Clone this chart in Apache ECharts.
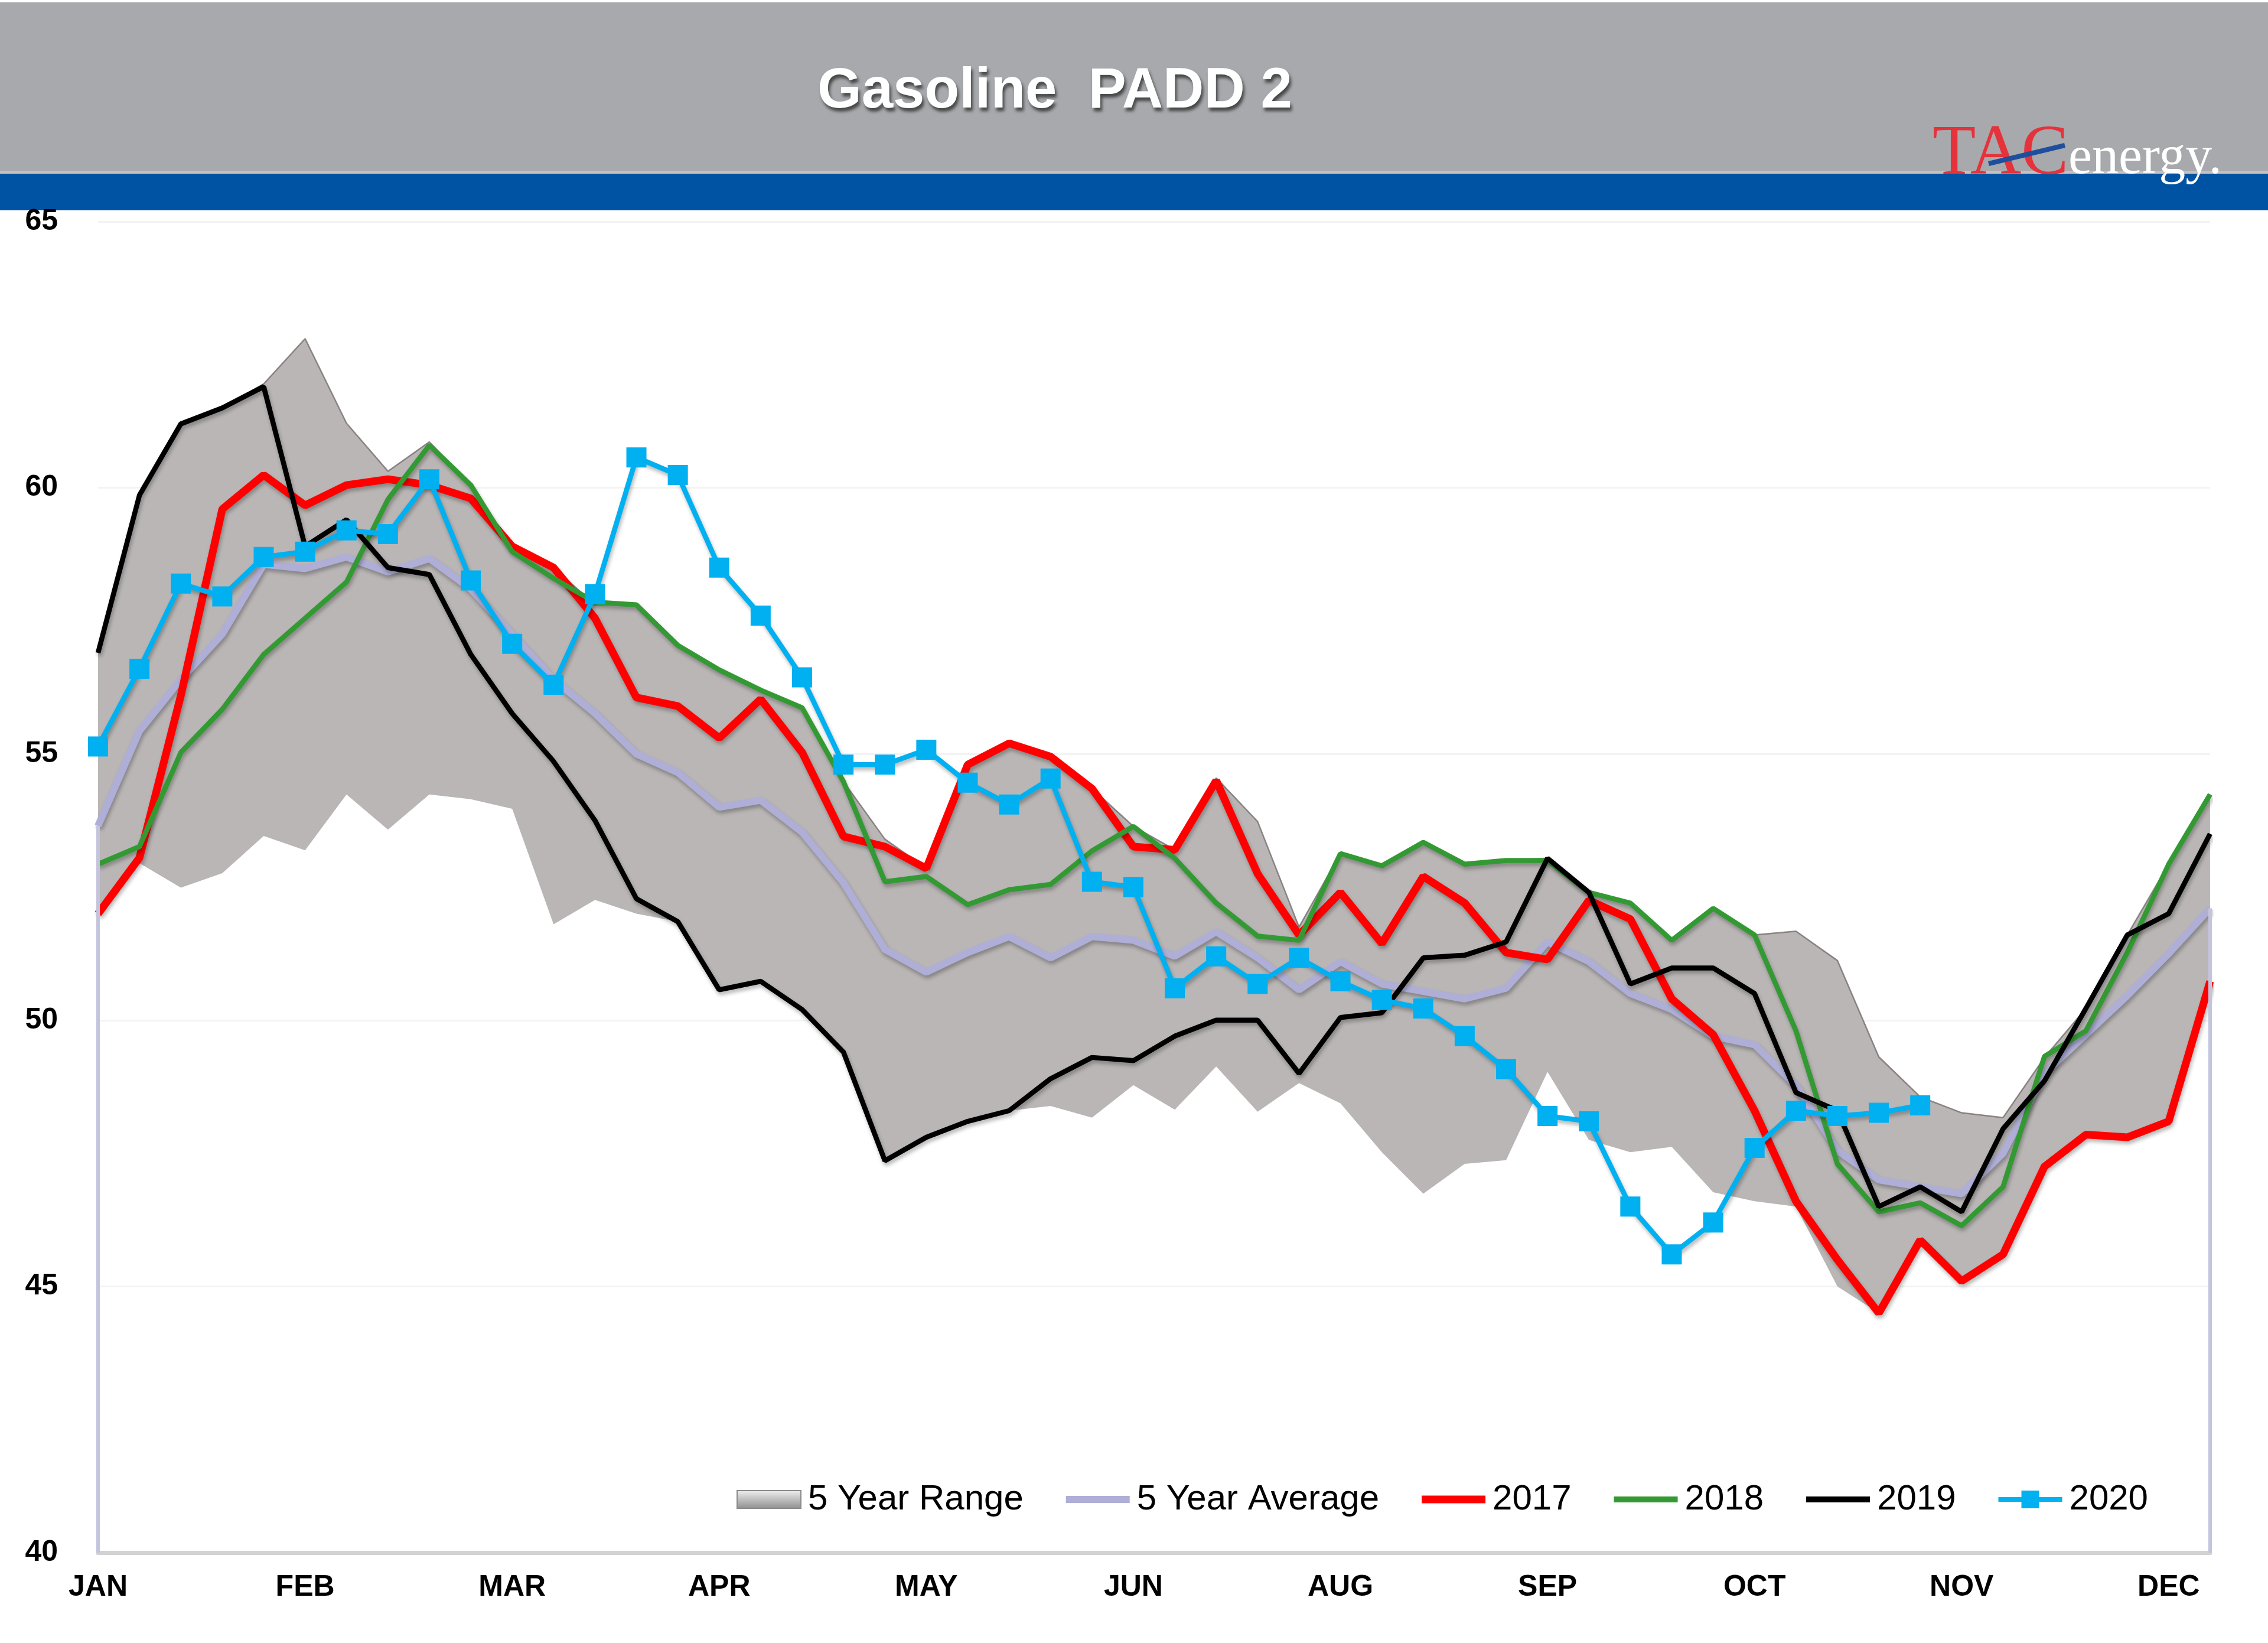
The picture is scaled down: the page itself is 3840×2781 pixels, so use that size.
<!DOCTYPE html>
<html><head><meta charset="utf-8">
<script src="https://cdn.jsdelivr.net/npm/echarts@6/dist/echarts.min.js"></script>
<style>html,body{margin:0;padding:0;background:#fff}#c{width:3840px;height:2781px}</style>
</head><body><div id="c"></div>
<script>
const weeks = [1,2,3,4,5,6,7,8,9,10,11,12,13,14,15,16,17,18,19,20,21,22,23,24,25,26,
  27,28,29,30,31,32,33,34,35,36,37,38,39,40,41,42,43,44,45,46,47,48,49,50,51,52];
const monthLabels = ['JAN','FEB','MAR','APR','MAY','JUN','AUG','SEP','OCT','NOV','DEC'];
const yTicks = [40,45,50,55,60,65];

const rangeUpper = [56.9,59.86,61.2,61.5,61.95,62.8,61.21,60.31,60.86,60.05,58.9,58.5,57.8,57.8,57.04,56.58,
  56.2,55.87,54.48,53.4,52.85,54.8,55.22,54.95,54.35,53.64,53.2,54.55,53.73,51.75,53.13,52.9,53.34,52.93,53.0,
  53.04,52.43,52.2,51.5,52.1,51.6,51.67,51.12,49.31,48.56,48.26,48.17,49.3,50.22,51.6,52.93,54.24];
const rangeLower = [52.0,52.95,52.49,52.76,53.46,53.19,54.24,53.58,54.24,54.15,53.97,51.8,52.26,52.0,51.85,50.57,
  50.73,50.2,49.4,47.36,47.8,48.1,48.3,48.39,48.17,48.78,48.32,49.13,48.28,48.82,48.44,47.52,46.74,47.3,47.37,
  49.03,47.75,47.52,47.62,46.77,46.6,46.5,45.0,44.5,45.87,45.1,45.6,47.25,47.85,47.8,48.1,50.73];
const avg5 = [53.65,55.43,56.4,57.25,58.56,58.48,58.7,58.42,58.67,58.1,57.25,56.4,55.76,55.0,54.65,54.0,54.13,
  53.53,52.58,51.33,50.9,51.27,51.57,51.17,51.57,51.5,51.2,51.66,51.17,50.57,51.1,50.68,50.54,50.4,50.6,51.47,
  51.1,50.5,50.2,49.7,49.54,48.77,47.55,47.0,46.87,46.74,47.5,49.0,49.73,50.46,51.25,52.1];
const y2017 = [52.0,53.05,56.1,59.6,60.24,59.67,60.05,60.16,60.05,59.8,58.9,58.5,57.55,56.06,55.9,55.3,56.03,
  55.03,53.45,53.26,52.85,54.8,55.2,54.95,54.35,53.26,53.2,54.5,52.75,51.6,52.4,51.44,52.7,52.2,51.27,51.14,
  52.25,51.9,50.4,49.73,48.3,46.6,45.5,44.5,45.87,45.1,45.6,47.25,47.85,47.8,48.1,50.73];
const y2018 = [52.93,53.26,55.03,55.84,56.87,57.55,58.23,59.78,60.8,60.05,58.8,58.3,57.85,57.8,57.04,56.58,
  56.2,55.87,54.48,52.6,52.7,52.17,52.45,52.55,53.18,53.64,53.04,52.2,51.58,51.5,53.13,52.9,53.34,52.93,53.0,
  53.0,52.4,52.2,51.5,52.1,51.6,49.8,47.3,46.4,46.57,46.14,46.87,49.32,49.8,51.27,52.93,54.24];
const y2019 = [56.9,59.86,61.2,61.5,61.9,58.9,59.4,58.5,58.37,56.87,55.76,54.86,53.75,52.28,51.85,50.57,
  50.73,50.2,49.4,47.36,47.8,48.1,48.3,48.9,49.3,49.24,49.7,50.0,50.0,49.0,50.05,50.14,51.17,51.22,51.47,
  53.04,52.4,50.68,50.98,50.98,50.5,48.64,48.3,46.5,46.87,46.4,47.96,48.86,50.22,51.6,52.0,53.5];
const y2020 = [55.14,56.6,58.2,57.96,58.7,58.8,59.2,59.13,60.16,58.26,57.07,56.3,58.0,60.57,60.24,58.5,57.6,
  56.44,54.8,54.8,55.08,54.46,54.05,54.54,52.6,52.5,50.6,51.2,50.68,51.17,50.73,50.38,50.22,49.7,49.08,48.2,
  48.1,46.5,45.6,46.2,47.6,48.3,48.2,48.26,48.4];

const rangeSpan = rangeUpper.map((u, i) => +(u - rangeLower[i]).toFixed(2));
const lastIdx = weeks.length - 1;
const shadow = {shadowColor:'rgba(0,0,0,0.28)', shadowBlur:6, shadowOffsetX:2, shadowOffsetY:5};
const C_AVG = '#aeaed6', C17 = '#ff0000', C18 = '#339a33', C19 = '#000000', C20 = '#00b0f0';

const chart = echarts.init(document.getElementById('c'), null, {renderer:'canvas'});
chart.setOption({
  animation:false,
  backgroundColor:'#ffffff',
  grid:{left:166, right:98, top:375, bottom:153, containLabel:false},
  graphic:[
    {type:'rect', shape:{x:0,y:4,width:3840,height:287}, style:{fill:'#a7a9ac'}, silent:true},
    {type:'rect', shape:{x:0,y:289,width:3840,height:5}, style:{fill:'#c9bfbf'}, silent:true},
    {type:'rect', shape:{x:0,y:294,width:3840,height:62}, style:{fill:'#0052a2'}, silent:true},
    {type:'text', left:1384, top:108, silent:true,
      style:{text:'Gasoline  PADD 2', fill:'#ffffff', font:'bold 96px "Liberation Sans", Arial, sans-serif',
        textShadowColor:'rgba(40,40,40,0.75)', textShadowBlur:5, textShadowOffsetX:3, textShadowOffsetY:6}},
    {type:'text', x:3272, y:322, silent:true,
      style:{text:'TAC', fill:'#e5323b', font:'120px "Liberation Serif", "Times New Roman", serif',
        textAlign:'left', textVerticalAlign:'bottom'}},
    {type:'text', x:3502, y:314, silent:true,
      style:{text:'energy.', fill:'#ffffff', font:'90px "Liberation Serif", "Times New Roman", serif',
        textAlign:'left', textVerticalAlign:'bottom'}},
    {type:'line', silent:true, shape:{x1:3367,y1:277,x2:3496,y2:246}, style:{stroke:'#1f4f9c', lineWidth:8}}
  ],
  legend:{
    left:1242, top:2503, itemGap:72, itemWidth:108, itemHeight:30,
    textStyle:{fontSize:60, color:'#000', fontFamily:'"Liberation Sans", Arial, sans-serif', padding:[0,0,0,7]},
    data:[
      {name:'5 Year Range', icon:'rect', itemStyle:{borderWidth:2, borderColor:'#8a8a8a',
        color:{type:'linear', x:0, y:0, x2:0, y2:1, colorStops:[
          {offset:0, color:'#f0f0f0'}, {offset:0.45, color:'#c4c4c4'}, {offset:1, color:'#8e8e8e'}]}}},
      {name:'5 Year Average', icon:'path://M0,0H108V12H0Z', itemStyle:{color:C_AVG, borderWidth:0}},
      {name:'2017', icon:'path://M0,0H108V13H0Z', itemStyle:{color:C17, borderWidth:0}},
      {name:'2018', icon:'path://M0,0H108V10H0Z', itemStyle:{color:C18, borderWidth:0}},
      {name:'2019', icon:'path://M0,0H108V10H0Z', itemStyle:{color:C19, borderWidth:0}},
      {name:'2020', icon:'path://M0,11H39V0H69V11H108V19H69V30H39V19H0Z', itemStyle:{color:C20, borderWidth:0}}
    ]
  },
  xAxis:{
    type:'category', data:weeks, boundaryGap:false,
    axisLine:{show:true, lineStyle:{color:'#d2d2d2', width:7}},
    axisTick:{show:false},
    axisLabel:{interval:4, margin:34, fontSize:50, fontWeight:'bold', color:'#000',
      fontFamily:'"Liberation Sans", Arial, sans-serif',
      formatter:(v, idx) => monthLabels[idx / 5] || ''},
    splitLine:{show:false}
  },
  yAxis:{
    type:'value', min:yTicks[0], max:yTicks[yTicks.length-1], interval:yTicks[1]-yTicks[0],
    axisLine:{show:false}, axisTick:{show:false},
    axisLabel:{margin:68, fontSize:50, fontWeight:'bold', color:'#000',
      fontFamily:'"Liberation Sans", Arial, sans-serif'},
    splitLine:{show:true, lineStyle:{color:'#f3f3f3', width:3}}
  },
  series:[
    {name:'rangeBase', type:'line', data:rangeLower, stack:'range', symbol:'none', silent:true,
      lineStyle:{width:0, opacity:0}, z:1},
    {name:'5 Year Range', type:'line', data:rangeSpan, stack:'range', symbol:'none', silent:true,
      lineStyle:{width:2.5, color:'#7c7373', opacity:0.85},
      areaStyle:{color:'#bab6b6', opacity:1}, itemStyle:{color:'#bab6b6'}, z:1},
    {name:'5 Year Average', type:'line', data:avg5, symbol:'none',
      lineStyle:Object.assign({width:12, color:C_AVG}, shadow), itemStyle:{color:C_AVG}, z:2,
      markLine:{silent:true, symbol:'none', label:{show:false},
        lineStyle:{color:'#c4c4dc', width:6, type:'solid'},
        data:[[{coord:[0, avg5[0]]},{coord:[0, yTicks[0]]}],
              [{coord:[lastIdx, avg5[lastIdx]]},{coord:[lastIdx, yTicks[0]]}]]}},
    {name:'2017', type:'line', data:y2017, symbol:'none',
      lineStyle:Object.assign({width:13, color:C17}, shadow), itemStyle:{color:C17}, z:3},
    {name:'2018', type:'line', data:y2018, symbol:'none',
      lineStyle:Object.assign({width:8.5, color:C18}, shadow), itemStyle:{color:C18}, z:4},
    {name:'2019', type:'line', data:y2019, symbol:'none',
      lineStyle:Object.assign({width:8.5, color:C19}, shadow), itemStyle:{color:C19}, z:5},
    {name:'2020', type:'line', data:y2020, symbol:'rect', symbolSize:34, showAllSymbol:true,
      lineStyle:Object.assign({width:8.5, color:C20}, shadow), itemStyle:{color:C20}, z:6}
  ]
});
</script></body></html>
